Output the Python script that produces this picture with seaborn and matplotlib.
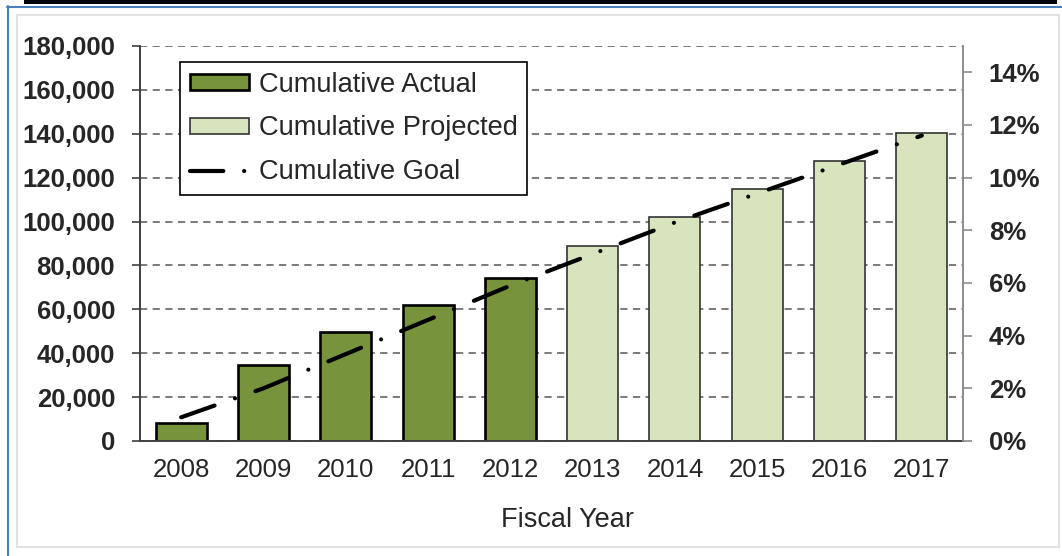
import numpy as np
import pandas as pd
import matplotlib
matplotlib.use("Agg")
import matplotlib.pyplot as plt
import seaborn as sns
from matplotlib.patches import Patch, Rectangle
from matplotlib.lines import Line2D

# ---- data ----
years = ["2008", "2009", "2010", "2011", "2012", "2013", "2014", "2015", "2016", "2017"]
actual = [8000, 34600, 49500, 62000, 74400]
projected = [88900, 102200, 114800, 127600, 140500]
goal_pct = [0.9, 2.0, 3.3, 4.6, 5.9, 7.1, 8.3, 9.4, 10.5, 11.6]
left_ticks = [0, 20000, 40000, 60000, 80000, 100000, 120000, 140000, 160000, 180000]
right_ticks = [0, 2, 4, 6, 8, 10, 12, 14]
labels = ["Cumulative Actual", "Cumulative Projected", "Cumulative Goal"]
xlabel = "Fiscal Year"

sns.set_style("white")
plt.rcParams["font.family"] = ["Liberation Sans", "DejaVu Sans"]

W, H = 1062, 556
fig = plt.figure(figsize=(W / 100, H / 100), dpi=100)
ax = fig.add_axes([140 / W, 1 - 441 / H, (963 - 140) / W, (441 - 46) / H])

df = pd.DataFrame({
    "year": years,
    "value": actual + projected,
    "type": [labels[0]] * len(actual) + [labels[1]] * len(projected),
})
c_act, c_proj = "#77933C", "#D7E4BD"
sns.barplot(data=df, x="year", y="value", hue="type", order=years,
            hue_order=labels[:2], palette={labels[0]: c_act, labels[1]: c_proj},
            dodge=False, width=0.62, saturation=1, legend=False, ax=ax, zorder=2)
for b in ax.containers[0]:
    b.set_edgecolor("#000000"); b.set_linewidth(1.9)
for b in ax.containers[1]:
    b.set_edgecolor("#333333"); b.set_linewidth(1.2)

ax.set_xlim(-0.5, 9.5)
ax.set_ylim(0, 180000)
ax.set_yticks(left_ticks)
ax.set_yticklabels([f"{v:,}" for v in left_ticks], fontsize=18.5, fontweight="bold")
ax.set_xticks(range(len(years)))
ax.set_xticklabels(years, fontsize=18.5)
ax.set_xticks(np.arange(-0.5, 10, 1), minor=True)
ax.tick_params(axis="x", which="major", length=0, pad=12)
ax.tick_params(axis="x", which="minor", length=5.5, width=1.2, color="#404040", direction="out")
ax.tick_params(axis="y", length=6, width=1.2, color="#404040", direction="out", pad=12, left=True)
ax.set_xlabel("")
ax.set_ylabel("")
ax.yaxis.grid(True, color="#6f6f6f", linestyle=(0, (4, 3)), linewidth=1.3, zorder=0)
ax.set_axisbelow(True)
ax.spines["top"].set_visible(False)
ax.spines["left"].set_color("#404040"); ax.spines["left"].set_linewidth(1.4)
ax.spines["bottom"].set_color("#404040"); ax.spines["bottom"].set_linewidth(1.4)
ax.spines["right"].set_visible(False)

ax.text((567.5 - 140) / 823, (441 - 527) / 395, xlabel, transform=ax.transAxes,
        ha="center", va="baseline", fontsize=19.5)

ax2 = ax.twinx()
ax2.set_ylim(0, 15)
ax2.set_yticks(right_ticks)
ax2.set_yticklabels([f"{v}%" for v in right_ticks], fontsize=18.5, fontweight="bold")
ax2.tick_params(axis="y", length=6.5, width=1.2, color="#8c8c8c", direction="out", pad=12, right=True)
goal_ls = (0, (8.5, 5.2, 0.01, 5.2))
ax2.plot(range(len(years)), goal_pct, color="black", linewidth=3, linestyle=goal_ls,
         dash_capstyle="round", zorder=5)
for s in ["top", "left", "bottom"]:
    ax2.spines[s].set_visible(False)
ax2.spines["right"].set_color("#8c8c8c"); ax2.spines["right"].set_linewidth(1.4)
ax2.grid(False)

handles = [Patch(facecolor=c_act, edgecolor="black", linewidth=1.9),
           Patch(facecolor=c_proj, edgecolor="#333333", linewidth=1.2),
           Line2D([], [], color="black", linewidth=3, linestyle=(0, (8, 5.0, 0.01, 2)),
                  dash_capstyle="round")]
leg = ax.legend(handles, labels, loc="upper left",
                bbox_to_anchor=((180 - 140) / 823, (441 - 62) / 395),
                borderaxespad=0, fontsize=19.6, frameon=True, fancybox=False,
                edgecolor="black", framealpha=1, borderpad=0.35, labelspacing=0.66,
                handlelength=2.2, handletextpad=0.35, handleheight=0.55)
leg.get_frame().set_linewidth(1.2)

# ---- page decorations around the chart ----
def fx(x): return x / W
def fy(y): return 1 - y / H

fig.add_artist(Rectangle((fx(24), fy(3.5)), fx(1057) - fx(24), 3.5 / H,
                         transform=fig.transFigure, facecolor="black", edgecolor="none"))
fig.add_artist(Line2D([fx(7), fx(1062)], [fy(6.5), fy(6.5)], transform=fig.transFigure,
                      color="#4a7ebb", linewidth=1.5))
fig.add_artist(Line2D([fx(7.5), fx(7.5)], [fy(6), fy(556)], transform=fig.transFigure,
                      color="#4a7ebb", linewidth=1.5))
fig.add_artist(Rectangle((fx(17), fy(547)), fx(1059) - fx(17), (547 - 15) / H,
                         transform=fig.transFigure, facecolor="none",
                         edgecolor="#e2e2e2", linewidth=1.5))

fig.savefig("out.png", dpi=100)
